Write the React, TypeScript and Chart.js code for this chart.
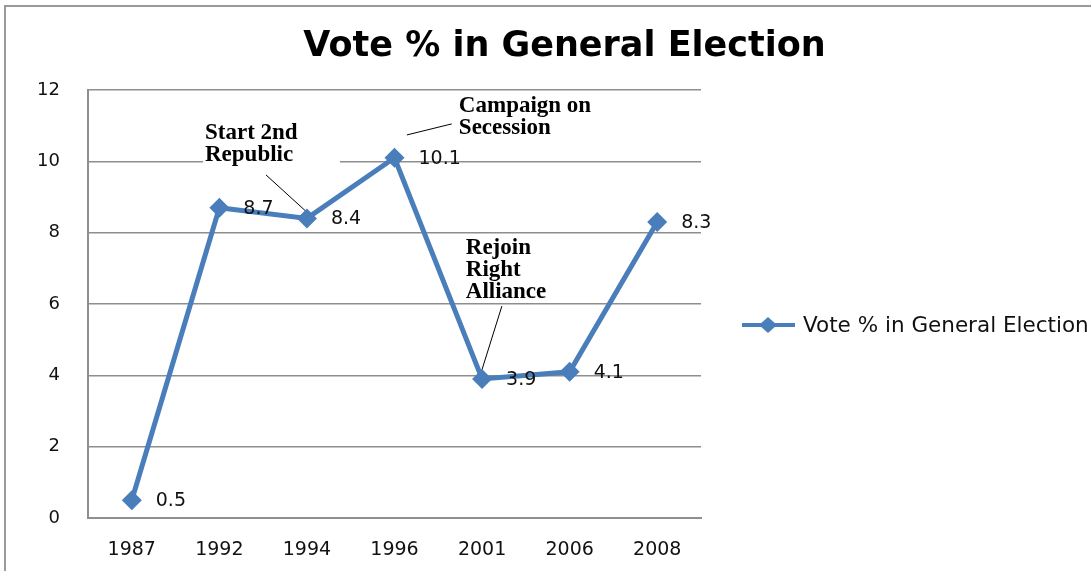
import React, { useEffect, useRef } from 'react';
import { Chart, registerables } from 'chart.js';

Chart.register(...registerables);

// ---- data ----
const chartTitle = 'Vote % in General Election';
const seriesName = 'Vote % in General Election';
const years = ['1987', '1992', '1994', '1996', '2001', '2006', '2008'];
const votePct = [0.5, 8.7, 8.4, 10.1, 3.9, 4.1, 8.3];
const yTickValues = [0, 2, 4, 6, 8, 10, 12];
const annotationLines = [
  ['Start 2nd', 'Republic'],
  ['Campaign on', 'Secession'],
  ['Rejoin', 'Right', 'Alliance'],
];

// ---- annotation placement (in data units: category index, value) ----
const annotationPlacement = [
  { x: 0.836, y: 10.79, box: [0.813, 11.21, 2.377, 9.76], leader: [[1.532, 9.62], [2.011, 8.55]] },
  { x: 3.735, y: 11.55, box: null, leader: [[3.141, 10.74], [3.654, 11.05]] },
  { x: 3.814, y: 7.57, box: null, leader: [[4.226, 5.94], [3.998, 4.15]] },
];
const annotationLineStep = 0.62;

const BLUE = '#4A7EBB';
const GRID = '#8e8e8e';
const SANS = '"DejaVu Sans", Verdana, sans-serif';

const decorPlugin = {
  id: 'decor',
  beforeDraw(chart: any) {
    const { ctx, width, height } = chart;
    ctx.save();
    ctx.fillStyle = '#ffffff';
    ctx.fillRect(0, 0, width, height);
    ctx.strokeStyle = '#9a9a9a';
    ctx.lineWidth = 2;
    ctx.strokeRect(5, 6, width + 50, height + 50);
    ctx.restore();
  },
  beforeDatasetsDraw(chart: any) {
    const { ctx } = chart;
    const xs = chart.scales.x;
    const ys = chart.scales.y;
    ctx.save();
    annotationPlacement.forEach((a, i) => {
      if (a.box) {
        const x0 = xs.getPixelForValue(a.box[0]);
        const y0 = ys.getPixelForValue(a.box[1]);
        const x1 = xs.getPixelForValue(a.box[2]);
        const y1 = ys.getPixelForValue(a.box[3]);
        ctx.fillStyle = '#ffffff';
        ctx.fillRect(x0, y0, x1 - x0, y1 - y0);
      }
      ctx.fillStyle = '#000000';
      ctx.font = 'bold 23px "Liberation Serif", "Times New Roman", serif';
      ctx.textAlign = 'left';
      ctx.textBaseline = 'middle';
      annotationLines[i].forEach((t, k) => {
        ctx.fillText(t, xs.getPixelForValue(a.x), ys.getPixelForValue(a.y - k * annotationLineStep));
      });
      ctx.strokeStyle = '#000000';
      ctx.lineWidth = 1;
      ctx.beginPath();
      ctx.moveTo(xs.getPixelForValue(a.leader[0][0]), ys.getPixelForValue(a.leader[0][1]));
      ctx.lineTo(xs.getPixelForValue(a.leader[1][0]), ys.getPixelForValue(a.leader[1][1]));
      ctx.stroke();
    });
    ctx.restore();
  },
  afterDatasetsDraw(chart: any) {
    const { ctx } = chart;
    const meta = chart.getDatasetMeta(0);
    ctx.save();
    ctx.fillStyle = '#111111';
    ctx.font = '19px ' + SANS;
    ctx.textAlign = 'left';
    ctx.textBaseline = 'middle';
    meta.data.forEach((pt: any, i: number) => {
      ctx.fillText(String(votePct[i]), pt.x + 24, pt.y + 1);
    });
    // legend
    const ly = 325;
    ctx.strokeStyle = BLUE;
    ctx.lineWidth = 4;
    ctx.beginPath();
    ctx.moveTo(742, ly);
    ctx.lineTo(795, ly);
    ctx.stroke();
    ctx.fillStyle = BLUE;
    ctx.beginPath();
    ctx.moveTo(768, ly - 8);
    ctx.lineTo(777, ly);
    ctx.lineTo(768, ly + 8);
    ctx.lineTo(759, ly);
    ctx.closePath();
    ctx.fill();
    ctx.fillStyle = '#111111';
    ctx.font = '21.5px ' + SANS;
    ctx.fillText(seriesName, 803, ly + 1);
    ctx.restore();
  },
};

export default function App() {
  const ref = useRef<HTMLCanvasElement | null>(null);
  useEffect(() => {
    if (!ref.current) return;
    const chart = new Chart(ref.current, {
      type: 'line',
      data: {
        labels: years,
        datasets: [
          {
            label: seriesName,
            data: votePct,
            borderColor: BLUE,
            backgroundColor: BLUE,
            borderWidth: 5,
            pointStyle: 'rectRot',
            pointRadius: 10,
            pointBackgroundColor: BLUE,
            pointBorderColor: BLUE,
            pointBorderWidth: 0,
            tension: 0,
            fill: false,
          },
        ],
      },
      options: {
        responsive: false,
        animation: false,
        layout: { padding: { left: 38, right: 0, top: 0, bottom: 0 } },
        plugins: {
          legend: { display: false },
          tooltip: { enabled: false },
          title: {
            display: true,
            text: chartTitle,
            color: '#000000',
            font: { family: SANS, size: 35, weight: 'bold' },
            padding: { top: 26, bottom: 22 },
          },
        },
        scales: {
          x: {
            offset: true,
            grid: { display: false, drawTicks: false },
            border: { display: true, color: GRID, width: 2 },
            afterFit: (s: any) => {
              s.height = 53;
            },
            ticks: {
              color: '#111111',
              padding: 21,
              maxRotation: 0,
              font: { family: SANS, size: 19 },
            },
          },
          y: {
            min: 0,
            max: 12,
            afterBuildTicks: (s: any) => {
              s.ticks = yTickValues.map((v) => ({ value: v }));
            },
            afterFit: (s: any) => {
              s.width = 50;
            },
            grid: { color: GRID, lineWidth: 1.5, drawTicks: false },
            border: { display: true, color: GRID, width: 2 },
            ticks: {
              color: '#111111',
              padding: 28,
              font: { family: SANS, size: 18 },
            },
          },
          side: {
            type: 'linear',
            position: 'right',
            display: true,
            grid: { display: false, drawTicks: false },
            border: { display: false },
            ticks: { display: false },
            afterFit: (s: any) => {
              s.width = 390;
            },
          },
        },
      },
      plugins: [decorPlugin],
    });
    return () => chart.destroy();
  }, []);
  return (
    <div style={{ position: 'absolute', left: 0, top: 0, width: 1091, height: 571, background: '#fff' }}>
      <canvas ref={ref} width={1091} height={571} style={{ display: 'block' }} />
    </div>
  );
}
